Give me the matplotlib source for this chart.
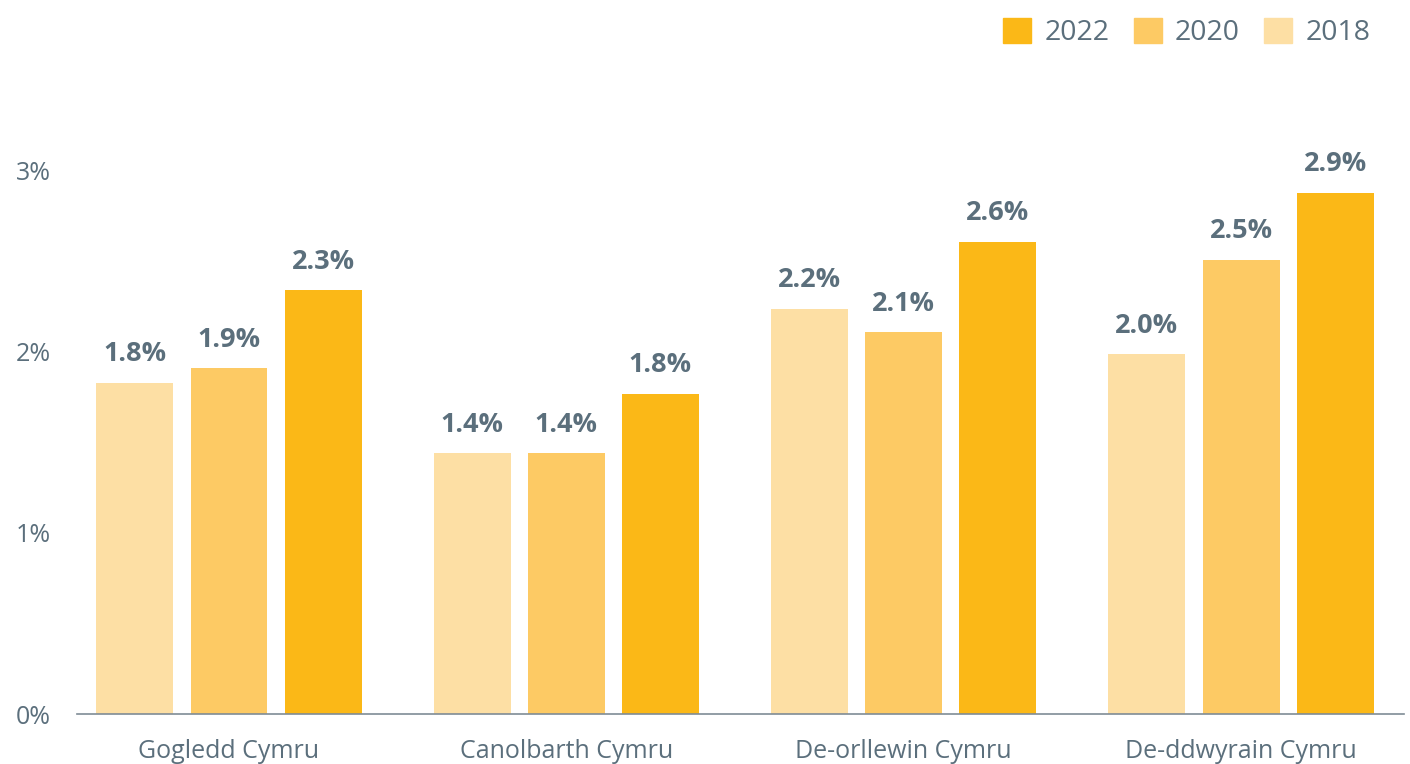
import numpy as np
import matplotlib.pyplot as plt
from matplotlib.patches import Patch

regions = ["Gogledd Cymru", "Canolbarth Cymru", "De-orllewin Cymru", "De-ddwyrain Cymru"]
years = ["2018", "2020", "2022"]
vals_2018 = [1.83, 1.44, 2.24, 1.99]
vals_2020 = [1.91, 1.44, 2.11, 2.51]
vals_2022 = [2.34, 1.77, 2.61, 2.88]
yticks = [0, 1, 2, 3]

colors = {"2018": "#FDDFA4", "2020": "#FDCA64", "2022": "#FBB817"}
txt_col = "#5B6F7C"

plt.rcParams["font.family"] = ["Open Sans", "DejaVu Sans"]

fig = plt.figure(figsize=(14.1, 7.64), dpi=100)
ax = fig.add_axes([77 / 1410, 50 / 764, 1327 / 1410, 633.5 / 764])

x = np.arange(len(regions))
width = 0.228
step = 0.279
series = {"2018": vals_2018, "2020": vals_2020, "2022": vals_2022}
for i, yr in enumerate(years):
    xs = x + (i - 1) * step
    bars = ax.bar(xs, series[yr], width, color=colors[yr], zorder=2)
    for b, v in zip(bars, series[yr]):
        ax.annotate(f"{v:.1f}%", (b.get_x() + b.get_width() / 2, v),
                    xytext=(0, 11), textcoords="offset points",
                    ha="center", va="bottom", fontsize=19.5, fontweight="bold",
                    color=txt_col)

ax.set_xlim(-0.4506, 3.483)
ax.set_ylim(0, 3.5)
ax.set_yticks(yticks)
ax.set_yticklabels([f"{t}%" for t in yticks])
ax.set_xticks(x)
ax.set_xticklabels(regions)
ax.tick_params(axis="both", length=0, labelsize=18, colors=txt_col)
ax.tick_params(axis="x", pad=18)
for lab in ax.get_yticklabels():
    lab.set_horizontalalignment("left")
ax.yaxis.set_tick_params(pad=44)
for s in ["top", "right", "left"]:
    ax.spines[s].set_visible(False)
ax.spines["bottom"].set_color("#7F8C96")
ax.spines["bottom"].set_linewidth(1.2)
ax.spines["bottom"].set_zorder(3)

handles = [Patch(color=colors[yr], label=yr) for yr in ["2022", "2020", "2018"]]
leg = fig.legend(handles=handles, loc="upper right", bbox_to_anchor=(0.99, 1.01),
                 ncol=3, frameon=False, fontsize=20.5, handlelength=1.0,
                 handleheight=1.0, handletextpad=0.45, columnspacing=0.85)
for t in leg.get_texts():
    t.set_color(txt_col)

fig.savefig("out.png", dpi=100)
